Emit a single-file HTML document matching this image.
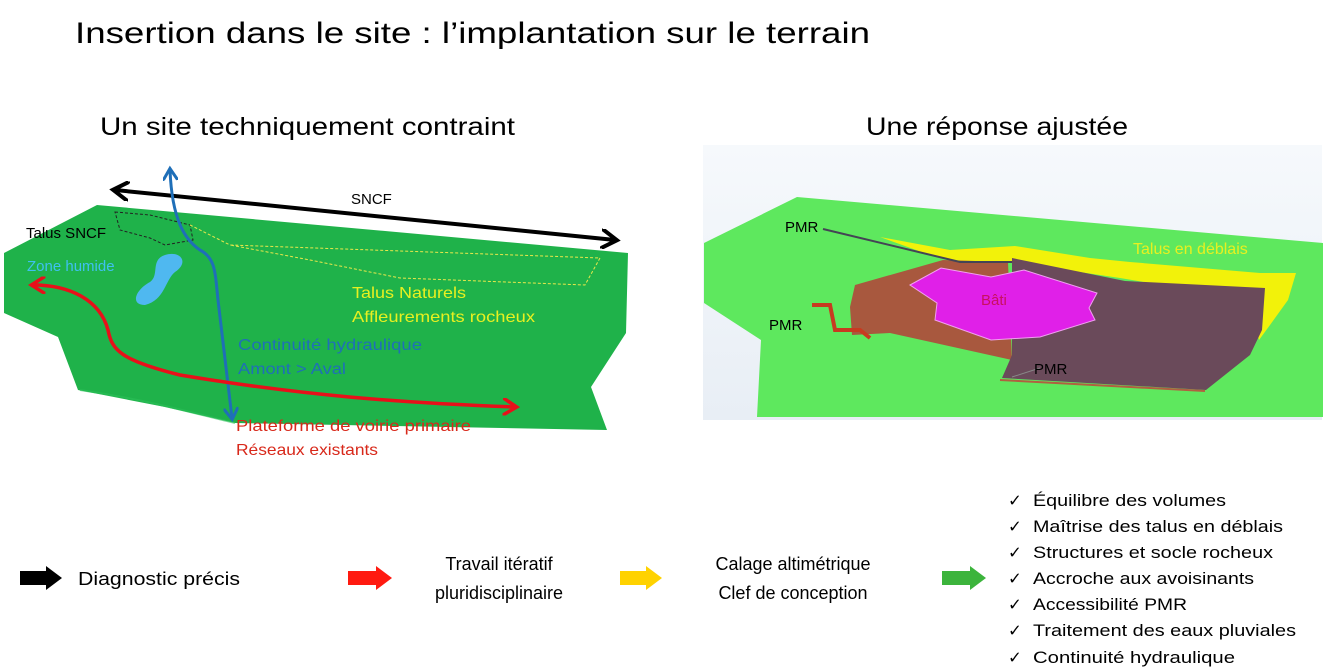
<!DOCTYPE html>
<html><head><meta charset="utf-8"><style>
html,body{margin:0;padding:0;background:#fff;}
svg{display:block;font-family:"Liberation Sans",sans-serif;}
</style></head><body>
<svg width="1332" height="670" viewBox="0 0 1332 670" xmlns="http://www.w3.org/2000/svg">
<defs>
<marker id="ab" viewBox="0 0 10 10" refX="7" refY="5" markerWidth="5" markerHeight="5" orient="auto-start-reverse"><path d="M0,0 L8,5 L0,10" fill="none" stroke="#000" stroke-width="2"/></marker>
<marker id="abl" viewBox="0 0 10 10" refX="7" refY="5" markerWidth="5" markerHeight="5" orient="auto-start-reverse"><path d="M0,0 L8,5 L0,10" fill="none" stroke="#1f6fb8" stroke-width="2"/></marker>
<marker id="ar" viewBox="0 0 10 10" refX="7" refY="5" markerWidth="5" markerHeight="5" orient="auto-start-reverse"><path d="M0,0 L8,5 L0,10" fill="none" stroke="#e8101a" stroke-width="2"/></marker>
<linearGradient id="bg" x1="0" y1="0" x2="0" y2="1"><stop offset="0" stop-color="#f6f9fc"/><stop offset="1" stop-color="#e8eef5"/></linearGradient>
</defs>
<text x="75" y="43" font-size="30" textLength="795" lengthAdjust="spacingAndGlyphs">Insertion dans le site : l’implantation sur le terrain</text>
<text x="100" y="135" font-size="25" textLength="415" lengthAdjust="spacingAndGlyphs">Un site techniquement contraint</text>
<text x="866" y="135" font-size="25" textLength="262" lengthAdjust="spacingAndGlyphs">Une réponse ajustée</text>

<!-- left map -->
<polygon points="4,253 97,205 628,253 626,333 591,387 607,430 235,423 165,407 78,390 58,337 4,313" fill="#1fb24a"/>
<path d="M80,390 C150,400 200,415 235,423" stroke="#2cc058" stroke-width="2" fill="none" opacity="0.6"/>
<path d="M115,212 L150,215 L190,225 L193,240 L165,245 L150,238 L120,230 Z" fill="none" stroke="#222" stroke-width="1" stroke-dasharray="3,2"/>
<path d="M190,225 L230,245 L600,258 L585,285 L400,278 L310,260 L230,245" fill="none" stroke="#e8e84a" stroke-width="1" stroke-dasharray="3,2"/>
<path d="M165,255 C180,250 190,262 175,272 C165,280 165,300 145,305 C130,305 135,290 150,282 C160,275 150,260 165,255 Z" fill="#4fb8f0"/>
<line x1="115" y1="190" x2="615" y2="240" stroke="#000" stroke-width="4" marker-start="url(#ab)" marker-end="url(#ab)"/>
<path d="M170,170 C172,220 185,240 200,250 C215,258 215,270 218,300 L232,418" stroke="#1f6fb8" stroke-width="3" fill="none" marker-start="url(#abl)" marker-end="url(#abl)"/>
<path d="M33,285 C70,285 100,300 108,330 C112,350 120,360 180,375 C300,395 400,403 515,407" stroke="#e8101a" stroke-width="3.5" fill="none" marker-start="url(#ar)" marker-end="url(#ar)"/>
<text x="351" y="204" font-size="15">SNCF</text>
<text x="26" y="238" font-size="15">Talus SNCF</text>
<text x="27" y="271" font-size="15" fill="#3fc0f0">Zone humide</text>
<text x="352" y="298" font-size="16" fill="#e8f020" textLength="114" lengthAdjust="spacingAndGlyphs">Talus Naturels</text>
<text x="352" y="322" font-size="16" fill="#e8f020" textLength="183" lengthAdjust="spacingAndGlyphs">Affleurements rocheux</text>
<text x="238" y="350" font-size="16" fill="#1f6fb8" textLength="184" lengthAdjust="spacingAndGlyphs">Continuité hydraulique</text>
<text x="238" y="374" font-size="16" fill="#1f6fb8" textLength="108" lengthAdjust="spacingAndGlyphs">Amont &gt; Aval</text>
<text x="236" y="431" font-size="16" fill="#d8281a" textLength="235" lengthAdjust="spacingAndGlyphs">Plateforme de voirie primaire</text>
<text x="236" y="455" font-size="16" fill="#d8281a" textLength="142" lengthAdjust="spacingAndGlyphs">Réseaux existants</text>

<!-- right map -->
<rect x="703" y="145" width="619" height="275" fill="url(#bg)"/>
<polygon points="704,243 797,197 1323,243 1323,417 757,417 761,340 704,303" fill="#5ee85e"/>
<polygon points="880,237 950,250 1015,246 1090,258 1130,262 1260,273 1296,273 1288,300 1270,325 1259,340 1250,300 1120,278 1012,262 960,262 930,255" fill="#f2f20a"/>
<polygon points="850,307 855,285 943,260 1008,262 1012,360 890,333 852,335" fill="#a8583e"/>
<polygon points="1012,258 1125,281 1265,288 1262,330 1250,355 1206,390 1002,378 1012,355" fill="#6a4a5a"/>
<polygon points="910,285 941,268 991,277 1024,270 1097,293 1089,308 1095,320 1040,337 991,340 935,320 937,303" fill="#e020e8" stroke="#f0a0f0" stroke-width="1"/>
<path d="M812,305 L830,305 L835,330 L860,330 L870,338" stroke="#c83a20" stroke-width="4" fill="none"/>
<path d="M823,229 L960,262 L1012,262" stroke="#445" stroke-width="2" fill="none"/>
<path d="M1012,377 L1040,368" stroke="#888" stroke-width="1"/>
<path d="M1000,380 L1205,391" stroke="#b06040" stroke-width="2"/>
<text x="785" y="232" font-size="15">PMR</text>
<text x="769" y="330" font-size="15">PMR</text>
<text x="1034" y="374" font-size="15">PMR</text>
<text x="981" y="305" font-size="15" fill="#c81060">Bâti</text>
<text x="1133" y="254" font-size="16" fill="#e8f020">Talus en déblais</text>

<!-- bottom -->
<g>
<polygon points="20,571 46,571 46,566 62,578 46,590 46,585 20,585" fill="#000"/>
<polygon points="348,571 376,571 376,566 392,578 376,590 376,585 348,585" fill="#ff1a10"/>
<polygon points="620,571 646,571 646,566 662,578 646,590 646,585 620,585" fill="#ffd200"/>
<polygon points="942,571 970,571 970,566 986,578 970,590 970,585 942,585" fill="#3cb43c"/>
</g>
<g font-size="18">
<text x="78" y="585" textLength="162" lengthAdjust="spacingAndGlyphs">Diagnostic précis</text>
<text x="499" y="570" text-anchor="middle">Travail itératif</text>
<text x="499" y="599" text-anchor="middle">pluridisciplinaire</text>
<text x="793" y="570" text-anchor="middle">Calage altimétrique</text>
<text x="793" y="599" text-anchor="middle">Clef de conception</text>
</g>
<g font-size="16.5">
<text x="1008" y="506">✓</text><text x="1033" y="506" textLength="193" lengthAdjust="spacingAndGlyphs">Équilibre des volumes</text>
<text x="1008" y="532">✓</text><text x="1033" y="532" textLength="250" lengthAdjust="spacingAndGlyphs">Maîtrise des talus en déblais</text>
<text x="1008" y="558">✓</text><text x="1033" y="558" textLength="240" lengthAdjust="spacingAndGlyphs">Structures et socle rocheux</text>
<text x="1008" y="584">✓</text><text x="1033" y="584" textLength="221" lengthAdjust="spacingAndGlyphs">Accroche aux avoisinants</text>
<text x="1008" y="610">✓</text><text x="1033" y="610" textLength="154" lengthAdjust="spacingAndGlyphs">Accessibilité PMR</text>
<text x="1008" y="636">✓</text><text x="1033" y="636" textLength="263" lengthAdjust="spacingAndGlyphs">Traitement des eaux pluviales</text>
<text x="1008" y="663">✓</text><text x="1033" y="663" textLength="202" lengthAdjust="spacingAndGlyphs">Continuité hydraulique</text>
</g>
</svg>
</body></html>
